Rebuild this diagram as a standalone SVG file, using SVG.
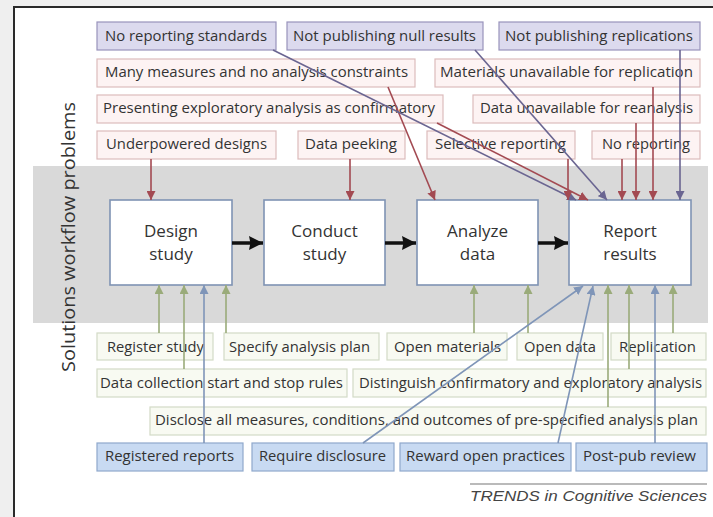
<svg xmlns="http://www.w3.org/2000/svg" width="713" height="517" viewBox="0 0 713 517">
<style>
text{font-family:"Open Sans","Noto Sans","Liberation Sans",sans-serif;fill:#333333}
.t{font-size:14px;text-anchor:middle}
.p{font-size:17px;text-anchor:middle}
.pu rect{fill:#dcdaee;stroke:#9893bb;stroke-width:1.2}
.pk rect{fill:#fdf3f3;stroke:#dcbcbc;stroke-width:1.2}
.gr rect{fill:#f8faf2;stroke:#d3dac6;stroke-width:1.2}
.bl rect{fill:#c8daf2;stroke:#8fa8cc;stroke-width:1.2}
.pr rect{fill:#ffffff;stroke:#7f93b3;stroke-width:1.6}
.cr{stroke:#a34a52;stroke-width:1.6;fill:none;marker-end:url(#mr)}
.cp{stroke:#6a6591;stroke-width:1.6;fill:none;marker-end:url(#mp)}
.cg{stroke:#9aab7a;stroke-width:1.6;fill:none;marker-end:url(#mg)}
.cb{stroke:#7f95b8;stroke-width:1.6;fill:none;marker-end:url(#mb)}
.ck{stroke:#111;stroke-width:3.5;fill:none;marker-end:url(#mk)}
</style>
<defs>
<marker id="mr" viewBox="0 0 10 10" refX="10" refY="5" markerWidth="9" markerHeight="9" markerUnits="userSpaceOnUse" orient="auto"><path d="M0,0 L10,5 L0,10 z" fill="#a34a52"/></marker>
<marker id="mp" viewBox="0 0 10 10" refX="10" refY="5" markerWidth="9" markerHeight="9" markerUnits="userSpaceOnUse" orient="auto"><path d="M0,0 L10,5 L0,10 z" fill="#6a6591"/></marker>
<marker id="mg" viewBox="0 0 10 10" refX="10" refY="5" markerWidth="9" markerHeight="9" markerUnits="userSpaceOnUse" orient="auto"><path d="M0,0 L10,5 L0,10 z" fill="#9aab7a"/></marker>
<marker id="mb" viewBox="0 0 10 10" refX="10" refY="5" markerWidth="9" markerHeight="9" markerUnits="userSpaceOnUse" orient="auto"><path d="M0,0 L10,5 L0,10 z" fill="#7f95b8"/></marker>
<marker id="mk" viewBox="0 0 10 10" refX="10" refY="5" markerWidth="14" markerHeight="14" markerUnits="userSpaceOnUse" orient="auto"><path d="M0,0 L10,5 L0,10 L1,5 z" fill="#111"/></marker>
</defs>
<rect x="0" y="0" width="713" height="517" fill="#efefef"/>
<rect x="14" y="7" width="720" height="530" fill="#ffffff" stroke="#2a2a2a" stroke-width="2"/>
<rect x="33" y="166" width="675" height="157" fill="#d9d9d9"/>
<text x="75" y="237" font-size="19" text-anchor="middle" transform="rotate(-90 75 237)" textLength="270" lengthAdjust="spacingAndGlyphs">Solutions workflow problems</text>

<g id="no-reporting-standards" class="pu"><rect x="97" y="22" width="179" height="28"/><text class="t" x="186" y="41" textLength="162" lengthAdjust="spacingAndGlyphs">No reporting standards</text></g>
<g id="not-publishing-null" class="pu"><rect x="287" y="22" width="196" height="28"/><text class="t" x="384.5" y="41" textLength="183" lengthAdjust="spacingAndGlyphs">Not publishing null results</text></g>
<g id="not-publishing-replications" class="pu"><rect x="499" y="22" width="201" height="28"/><text class="t" x="599" y="41" textLength="188" lengthAdjust="spacingAndGlyphs">Not publishing replications</text></g>

<g id="many-measures" class="pk"><rect x="97" y="59" width="318" height="28"/><text class="t" x="256.5" y="77" textLength="303" lengthAdjust="spacingAndGlyphs">Many measures and no analysis constraints</text></g>
<g id="materials-unavailable" class="pk"><rect x="435" y="59" width="265" height="28"/><text class="t" x="566.5" y="77" textLength="253" lengthAdjust="spacingAndGlyphs">Materials unavailable for replication</text></g>
<g id="presenting-exploratory" class="pk"><rect x="97" y="95" width="346" height="28"/><text class="t" x="269" y="113" textLength="332" lengthAdjust="spacingAndGlyphs">Presenting exploratory analysis as confirmatory</text></g>
<g id="data-unavailable" class="pk"><rect x="473" y="95" width="227" height="28"/><text class="t" x="586.5" y="113" textLength="213" lengthAdjust="spacingAndGlyphs">Data unavailable for reanalysis</text></g>
<g id="underpowered" class="pk"><rect x="97" y="131" width="179" height="28"/><text class="t" x="186.5" y="149" textLength="161" lengthAdjust="spacingAndGlyphs">Underpowered designs</text></g>
<g id="data-peeking" class="pk"><rect x="298" y="131" width="107" height="28"/><text class="t" x="351" y="149" textLength="92" lengthAdjust="spacingAndGlyphs">Data peeking</text></g>
<g id="selective-reporting" class="pk"><rect x="427" y="131" width="148" height="28"/><text class="t" x="500.5" y="149" textLength="131" lengthAdjust="spacingAndGlyphs">Selective reporting</text></g>
<g id="no-reporting" class="pk"><rect x="592" y="131" width="108" height="28"/><text class="t" x="646" y="149" textLength="88" lengthAdjust="spacingAndGlyphs">No reporting</text></g>

<g id="design-study" class="pr"><rect x="110" y="200" width="122" height="85"/><text class="p" x="171" y="237">Design</text><text class="p" x="171" y="260">study</text></g>
<g id="conduct-study" class="pr"><rect x="264" y="200" width="121" height="85"/><text class="p" x="324.5" y="237">Conduct</text><text class="p" x="324.5" y="260">study</text></g>
<g id="analyze-data" class="pr"><rect x="417" y="200" width="121" height="85"/><text class="p" x="477.5" y="237">Analyze</text><text class="p" x="477.5" y="260">data</text></g>
<g id="report-results" class="pr"><rect x="569" y="200" width="122" height="85"/><text class="p" x="630" y="237">Report</text><text class="p" x="630" y="260">results</text></g>

<g id="register-study" class="gr"><rect x="97" y="333" width="116" height="27"/><text class="t" x="155.5" y="352" textLength="97" lengthAdjust="spacingAndGlyphs">Register study</text></g>
<g id="specify-plan" class="gr"><rect x="224" y="333" width="155" height="27"/><text class="t" x="299.5" y="352" textLength="141" lengthAdjust="spacingAndGlyphs">Specify analysis plan</text></g>
<g id="open-materials" class="gr"><rect x="387" y="333" width="120" height="27"/><text class="t" x="447.5" y="352" textLength="107" lengthAdjust="spacingAndGlyphs">Open materials</text></g>
<g id="open-data" class="gr"><rect x="517" y="333" width="86" height="27"/><text class="t" x="560" y="352" textLength="72" lengthAdjust="spacingAndGlyphs">Open data</text></g>
<g id="replication" class="gr"><rect x="611" y="333" width="95" height="27"/><text class="t" x="657.5" y="352" textLength="77" lengthAdjust="spacingAndGlyphs">Replication</text></g>
<g id="data-collection-rules" class="gr"><rect x="97" y="369" width="250" height="28"/><text class="t" x="221.5" y="388" textLength="243" lengthAdjust="spacingAndGlyphs">Data collection start and stop rules</text></g>
<g id="distinguish" class="gr"><rect x="353" y="369" width="353" height="28"/><text class="t" x="530.5" y="388" textLength="343" lengthAdjust="spacingAndGlyphs">Distinguish confirmatory and exploratory analysis</text></g>
<g id="disclose-all" class="gr"><rect x="150" y="407" width="556" height="28"/><text class="t" x="426.5" y="425" textLength="543" lengthAdjust="spacingAndGlyphs">Disclose all measures, conditions, and outcomes of pre-specified analysis plan</text></g>
<g id="registered-reports" class="bl"><rect x="97" y="443" width="146" height="28"/><text class="t" x="169.5" y="461" textLength="129" lengthAdjust="spacingAndGlyphs">Registered reports</text></g>
<g id="require-disclosure" class="bl"><rect x="252" y="443" width="142" height="28"/><text class="t" x="322.5" y="461" textLength="127" lengthAdjust="spacingAndGlyphs">Require disclosure</text></g>
<g id="reward-open" class="bl"><rect x="400" y="443" width="171" height="28"/><text class="t" x="485.5" y="461" textLength="159" lengthAdjust="spacingAndGlyphs">Reward open practices</text></g>
<g id="post-pub" class="bl"><rect x="576" y="443" width="131" height="28"/><text class="t" x="639.5" y="461" textLength="113" lengthAdjust="spacingAndGlyphs">Post-pub review</text></g>

<g id="connectors">
<line class="ck" x1="232" y1="243" x2="263" y2="243"/>
<line class="ck" x1="385" y1="243" x2="416" y2="243"/>
<line class="ck" x1="538" y1="243" x2="568" y2="243"/>
<line class="cr" x1="151" y1="159" x2="151" y2="200"/>
<line class="cr" x1="350" y1="159" x2="350" y2="200"/>
<line class="cr" x1="388" y1="87" x2="435" y2="200"/>
<line class="cp" x1="273" y1="50" x2="576" y2="200"/>
<line class="cr" x1="437" y1="123" x2="588" y2="200"/>
<line class="cp" x1="475" y1="50" x2="607" y2="200"/>
<line class="cr" x1="568" y1="159" x2="568" y2="200"/>
<line class="cr" x1="622" y1="159" x2="622" y2="200"/>
<line class="cr" x1="636" y1="123" x2="636" y2="200"/>
<line class="cr" x1="653" y1="87" x2="653" y2="200"/>
<line class="cp" x1="680" y1="50" x2="680" y2="200"/>
<line class="cg" x1="159" y1="333" x2="159" y2="285"/>
<line class="cg" x1="184" y1="369" x2="184" y2="285"/>
<line class="cb" x1="204" y1="443" x2="204" y2="285"/>
<line class="cg" x1="226" y1="333" x2="226" y2="285"/>
<line class="cg" x1="474" y1="333" x2="474" y2="285"/>
<line class="cg" x1="528" y1="333" x2="528" y2="285"/>
<line class="cb" x1="363" y1="443" x2="583" y2="286"/>
<line class="cb" x1="558" y1="443" x2="593" y2="286"/>
<line class="cg" x1="608" y1="407" x2="608" y2="285"/>
<line class="cg" x1="629" y1="369" x2="629" y2="285"/>
<line class="cb" x1="655" y1="443" x2="655" y2="285"/>
<line class="cg" x1="673" y1="333" x2="673" y2="285"/>
</g>

<line x1="470" y1="484" x2="707" y2="484" stroke="#777" stroke-width="1.2"/>
<text x="470" y="501" font-size="15" font-style="italic" textLength="237" lengthAdjust="spacingAndGlyphs" style="font-family:'Liberation Sans',Arial,sans-serif;fill:#444">TRENDS in Cognitive Sciences</text>
</svg>
